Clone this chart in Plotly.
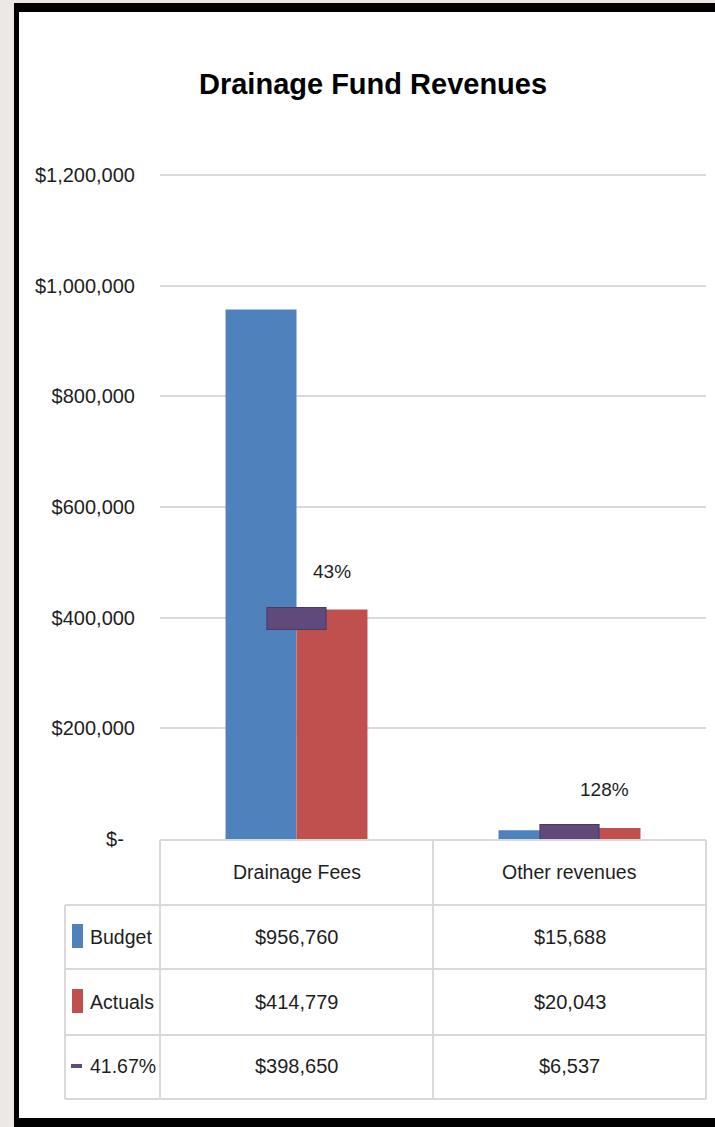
import plotly.graph_objects as go

# ---- data ----
categories = ["Drainage Fees", "Other revenues"]
budget = [956760, 15688]
actuals = [414779, 20043]
target = [398650, 6537]          # 41.67% of the year elapsed
series_names = ["Budget", "Actuals", "41.67%"]
y_ticks = [0, 200000, 400000, 600000, 800000, 1000000, 1200000]
y_tick_labels = ["$-\u00a0\u00a0", "$200,000", "$400,000", "$600,000",
                 "$800,000", "$1,000,000", "$1,200,000"]
pct_labels = [f"{a / b:.0%}" for a, b in zip(actuals, budget)]

# ---- styling ----
BLUE, RED, PURPLE, PURPLE_EDGE = "#4f81bd", "#c0504d", "#604a7b", "#4b3a60"
GRID = "#d9d9d9"
TEXT = "#1e1e1e"
FONT = "Liberation Sans Narrow, Arial Narrow, Liberation Sans, Arial, sans-serif"

W, H = 715, 1127
L, R, T, B = 160, 706, 169, 839     # plot area in pixels
Y_TOP = 1200000 * (B - T) / (B - 175)   # 1.2M gridline sits at y=175 px


def px(x):
    return (x - L) / (R - L)


def py(y):
    return (B - y) / (B - T)


fig = go.Figure()
fig.add_trace(go.Bar(name=series_names[0], x=categories, y=budget,
                     marker=dict(color=BLUE, line=dict(width=0))))
fig.add_trace(go.Bar(name=series_names[1], x=categories, y=actuals,
                     marker=dict(color=RED, line=dict(width=0))))
# wide dash markers for the 41.67% benchmark
fig.add_trace(go.Scatter(name=series_names[2], x=categories, y=target, mode="markers",
                         marker=dict(symbol="line-ew", size=43,
                                     line=dict(width=23, color=PURPLE_EDGE))))
fig.add_trace(go.Scatter(name=series_names[2], x=categories, y=target, mode="markers",
                         showlegend=False,
                         marker=dict(symbol="line-ew", size=41.5,
                                     line=dict(width=21, color=PURPLE))))

shapes = [
    # outer frame
    dict(type="rect", xref="paper", yref="paper", x0=px(14), x1=px(720),
         y0=py(3), y1=py(1130), fillcolor="black", line=dict(width=0), layer="below"),
    dict(type="rect", xref="paper", yref="paper", x0=px(19), x1=px(720),
         y0=py(12), y1=py(1118), fillcolor="white", line=dict(width=0), layer="below"),
]


def hline(y, x0, x1):
    shapes.append(dict(type="line", xref="paper", yref="paper", x0=px(x0), x1=px(x1),
                       y0=py(y), y1=py(y), line=dict(color=GRID, width=2), layer="below"))


def vline(x, y0, y1):
    shapes.append(dict(type="line", xref="paper", yref="paper", x0=px(x), x1=px(x),
                       y0=py(y0), y1=py(y1), line=dict(color=GRID, width=2), layer="below"))


# data table grid
hline(840, 160, 706)
for yy in (905, 969, 1035, 1099):
    hline(yy, 65, 706)
vline(160, 840, 1099)
vline(433, 840, 1099)
vline(706, 840, 1099)
vline(65, 905, 1099)

# legend keys inside the table
shapes.append(dict(type="rect", xref="paper", yref="paper", x0=px(72), x1=px(83),
                   y0=py(924), y1=py(948), fillcolor=BLUE, line=dict(width=0)))
shapes.append(dict(type="rect", xref="paper", yref="paper", x0=px(72), x1=px(83),
                   y0=py(989), y1=py(1013), fillcolor=RED, line=dict(width=0)))
shapes.append(dict(type="rect", xref="paper", yref="paper", x0=px(71), x1=px(82),
                   y0=py(1064), y1=py(1068), fillcolor=PURPLE, line=dict(width=0)))

annotations = [
    dict(text="<b>Drainage Fund Revenues</b>", xref="paper", yref="paper",
         x=px(373), y=py(84), xanchor="center", yanchor="middle", showarrow=False,
         font=dict(size=29, color="black", family=FONT)),
]

# percentage labels above the actuals bars
for c, a, t in zip(categories, actuals, pct_labels):
    annotations.append(dict(text=t, x=c, y=a, xref="x", yref="y", xshift=35,
                            yshift=38, showarrow=False, xanchor="center",
                            yanchor="middle", font=dict(size=19, color=TEXT, family=FONT)))

# table header and values
row_y = [937, 1002, 1066]
for c in categories:
    annotations.append(dict(text=c, x=c, xref="x", y=py(872), yref="paper",
                            showarrow=False, yanchor="middle",
                            font=dict(size=19.5, color=TEXT, family=FONT)))
for ry, name, vals in zip(row_y, series_names, (budget, actuals, target)):
    annotations.append(dict(text=name, x=px(88), xref="paper", y=py(ry), yref="paper",
                            xanchor="left", yanchor="middle", showarrow=False,
                            font=dict(size=19.5, color=TEXT, family=FONT)))
    for c, v in zip(categories, vals):
        annotations.append(dict(text=f"${v:,.0f}", x=c, xref="x", y=py(ry), yref="paper",
                                showarrow=False, yanchor="middle",
                                font=dict(size=20, color=TEXT, family=FONT)))

fig.update_layout(
    width=W, height=H,
    margin=dict(l=L, r=W - R, t=T, b=H - B, pad=0),
    paper_bgcolor="#eee8e4",
    plot_bgcolor="rgba(0,0,0,0)",
    barmode="group", bargap=0.48, bargroupgap=0,
    showlegend=False,
    shapes=shapes,
    annotations=annotations,
    font=dict(family=FONT, color=TEXT),
    xaxis=dict(type="category", showticklabels=False, showgrid=False,
               zeroline=False, showline=False, ticks="", range=[-0.5, 1.5]),
    yaxis=dict(range=[0, Y_TOP], tickvals=y_ticks, ticktext=y_tick_labels,
               showgrid=True, gridcolor=GRID, gridwidth=2, zeroline=False,
               showline=False, ticks="", ticklabelstandoff=24,
               tickfont=dict(size=20, color=TEXT, family=FONT)),
)

fig.write_html("out.html")
